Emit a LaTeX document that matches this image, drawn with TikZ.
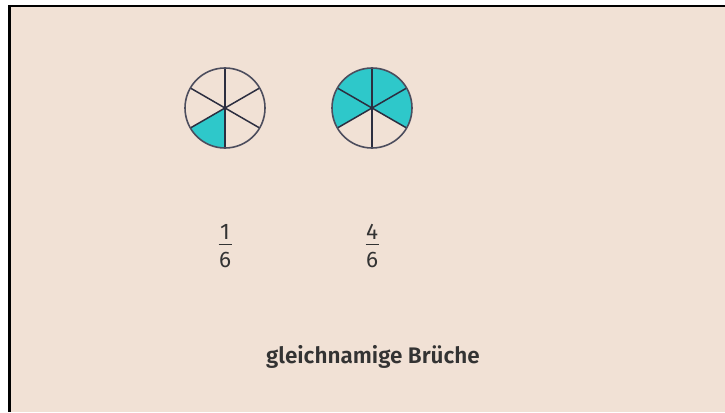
\documentclass[tikz,border=0pt]{standalone}
\usepackage{fontspec}
\usetikzlibrary{calc}
\setmainfont{Fira Sans}[BoldFont={Fira Sans SemiBold}]
\definecolor{bg}{HTML}{F1E1D5}
\definecolor{teal}{HTML}{2EC8CA}
\definecolor{ink}{HTML}{2C2E40}
\definecolor{txt}{HTML}{333333}
\tikzset{
  spoke/.style={draw=ink, line width=1.5pt},
  rim/.style={draw=ink!85, line width=1.6pt},
  sector/.style={fill=teal},
  fracnum/.style={font=\fontsize{22.5}{22.5}\selectfont, text=txt, inner sep=0pt},
  caption/.style={font=\bfseries\fontsize{22.5}{22.5}\selectfont, text=txt, inner sep=0pt}
}
\begin{document}
\begin{tikzpicture}[x=1pt,y=-1pt]
\useasboundingbox (0,0) rectangle (725,412);
\fill[white] (0,0) rectangle (725,412);
\fill[black] (8,5) rectangle (725,412);
\fill[bg] (11,7) rectangle (725,412);
% left pie (y axis flipped: visual angle t is -t here)
\coordinate (c1) at (225,108);
\fill[sector] (c1) -- ++(90:40) arc[start angle=90, end angle=150, radius=40] -- cycle;
\foreach \a in {90,30,-30} { \draw[spoke] ($(c1)+(\a:40)$) -- ($(c1)+(\a+180:40)$); }
\draw[rim] (c1) circle[radius=40];
% right pie
\coordinate (c2) at (372,108);
\fill[sector] (c2) -- ++(-210:40) arc[start angle=-210, end angle=30, radius=40] -- cycle;
\foreach \a in {90,30,-30} { \draw[spoke] ($(c2)+(\a:40)$) -- ($(c2)+(\a+180:40)$); }
\draw[rim] (c2) circle[radius=40];
% fractions
\node[fracnum] (n1) at (225,232) {1};
\node[fracnum] (d1) at (225,260) {6};
\draw[txt, line width=1.4pt] (218.5,244.5) -- (231.5,244.5);
\node[fracnum] (n2) at (372,232) {4};
\node[fracnum] (d2) at (372,260) {6};
\draw[txt, line width=1.4pt] (365.5,244.5) -- (378.5,244.5);
% caption
\node[caption] (cap) at (373,357) {gleichnamige Brüche};
\end{tikzpicture}
\end{document}
